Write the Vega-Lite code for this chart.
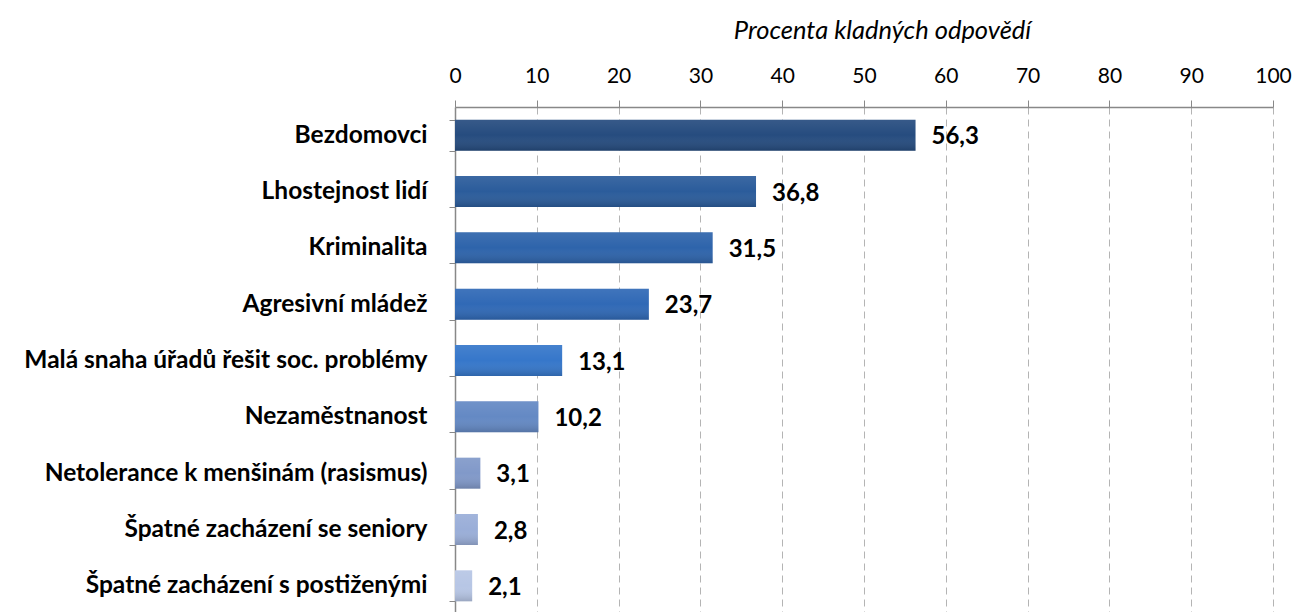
{
  "$schema": "https://vega.github.io/schema/vega-lite/v6.json",
  "width": 818,
  "height": 507,
  "autosize": {"type": "none"},
  "padding": {"left": 455, "top": 107, "right": 23, "bottom": 0},
  "background": "white",
  "config": {
    "locale": {"number": {"decimal": ",", "thousands": " ", "grouping": [3], "currency": ["", " Kč"]}},
    "view": {"stroke": null},
    "font": "Lato"
  },
  "data": {
    "values": [
      {"kategorie": "Bezdomovci", "procenta": 56.3},
      {"kategorie": "Lhostejnost lidí", "procenta": 36.8},
      {"kategorie": "Kriminalita", "procenta": 31.5},
      {"kategorie": "Agresivní mládež", "procenta": 23.7},
      {"kategorie": "Malá snaha úřadů řešit soc. problémy", "procenta": 13.1},
      {"kategorie": "Nezaměstnanost", "procenta": 10.2},
      {"kategorie": "Netolerance k menšinám (rasismus)", "procenta": 3.1},
      {"kategorie": "Špatné zacházení se seniory", "procenta": 2.8},
      {"kategorie": "Špatné zacházení s postiženými", "procenta": 2.1}
    ]
  },
  "encoding": {
    "y": {
      "field": "kategorie",
      "type": "nominal",
      "sort": null,
      "scale": {"paddingInner": 0.45, "paddingOuter": 0.225},
      "axis": {
        "title": null,
        "labelFont": "Lato",
        "labelFontWeight": "bold",
        "labelFontSize": 24.5,
        "labelColor": "#000000",
        "labelPadding": 22,
        "labelLimit": 500,
        "tickSize": 6,
        "tickColor": "#888888",
        "tickBand": "extent",
        "domainColor": "#888888",
        "domainWidth": 1.5
      }
    }
  },
  "layer": [
    {
      "mark": {"type": "bar"},
      "encoding": {
        "x": {
          "field": "procenta",
          "type": "quantitative",
          "scale": {"domain": [0, 100], "nice": false},
          "axis": {
            "orient": "top",
            "title": "Procenta kladných odpovědí",
            "titleFont": "Lato",
            "titleFontStyle": "italic",
            "titleFontWeight": "normal",
            "titleFontSize": 25.5,
            "titleColor": "#000000",
            "titlePadding": 22,
            "titleX": 427,
            "values": [0, 10, 20, 30, 40, 50, 60, 70, 80, 90, 100],
            "labelFont": "Lato",
            "labelFontSize": 21,
            "labelColor": "#000000",
            "labelPadding": 14,
            "labelFlush": false,
            "labelOverlap": false,
            "tickSize": 7,
            "tickColor": "#888888",
            "domainColor": "#888888",
            "domainWidth": 1.5,
            "grid": true,
            "gridColor": "#b4b4b4",
            "gridDash": [7, 5],
            "gridWidth": 1
          }
        },
        "color": {
          "field": "kategorie",
          "type": "nominal",
          "legend": null,
          "scale": {
            "domain": [
              "Bezdomovci",
              "Lhostejnost lidí",
              "Kriminalita",
              "Agresivní mládež",
              "Malá snaha úřadů řešit soc. problémy",
              "Nezaměstnanost",
              "Netolerance k menšinám (rasismus)",
              "Špatné zacházení se seniory",
              "Špatné zacházení s postiženými"
            ],
            "range": ["#264c7f", "#2b5c9b", "#2e64ab", "#3069b6", "#3677ca", "#6489c4", "#8199c9", "#9aaed8", "#b7c6e5"]
          }
        }
      }
    },
    {
      "mark": {
        "type": "bar",
        "color": {
          "gradient": "linear",
          "x1": 0, "y1": 0, "x2": 0, "y2": 1,
          "stops": [
            {"offset": 0, "color": "rgba(255,255,255,0.08)"},
            {"offset": 0.5, "color": "rgba(255,255,255,0)"},
            {"offset": 1, "color": "rgba(0,0,0,0.16)"}
          ]
        }
      },
      "encoding": {
        "x": {"field": "procenta", "type": "quantitative"}
      }
    },
    {
      "mark": {"type": "text", "align": "left", "baseline": "middle", "dx": 16, "dy": 2, "fontWeight": "bold", "fontSize": 24, "font": "Lato", "color": "#000000"},
      "encoding": {
        "x": {"field": "procenta", "type": "quantitative"},
        "text": {"field": "procenta", "type": "quantitative", "format": ".1f"}
      }
    }
  ]
}
